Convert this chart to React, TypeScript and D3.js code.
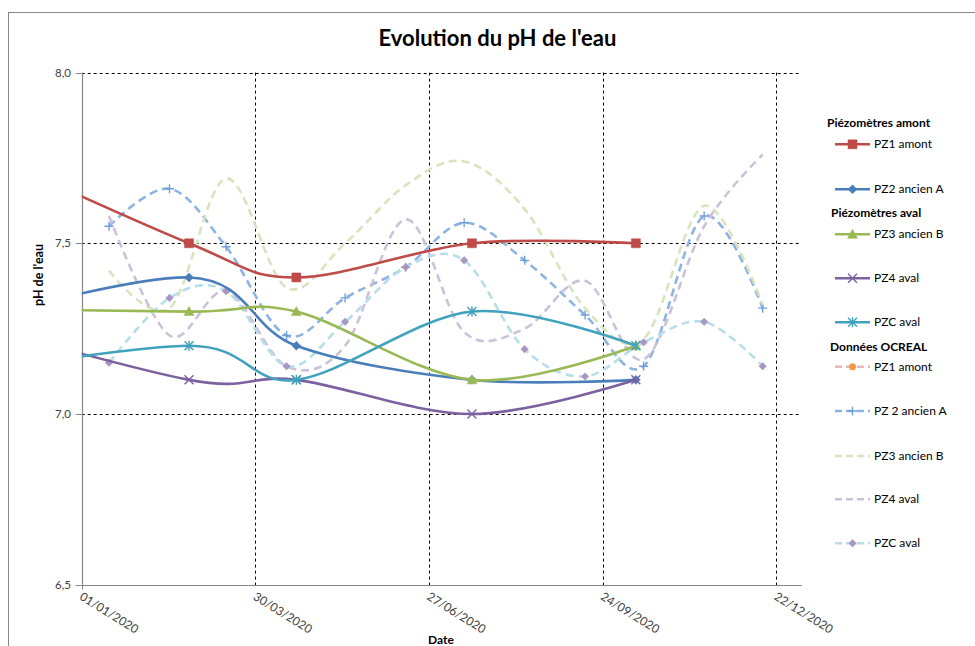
import React from "react";
import * as d3 from "d3";

const W = 975;
const H = 646;

// ---- data ----
const solidDates = ["2019-10-15", "2020-02-25", "2020-04-20", "2020-07-19", "2020-10-11"];
const pz1Amont = [7.84, 7.5, 7.4, 7.5, 7.5];
const pz2AncienA = [7.24, 7.4, 7.2, 7.1, 7.1];
const pz3AncienB = [7.31, 7.3, 7.3, 7.1, 7.2];
const pz4Aval = [7.3, 7.1, 7.1, 7.0, 7.1];
const pzcAval = [7.1, 7.2, 7.1, 7.3, 7.2];

const ocrealDates = [
  "2020-01-15", "2020-02-15", "2020-03-15", "2020-04-15", "2020-05-15", "2020-06-15",
  "2020-07-15", "2020-08-15", "2020-09-15", "2020-10-15", "2020-11-15", "2020-12-15",
];
const ocPz1Amont: (number | null)[] = [null, null, null, null, null, null, null, null, null, null, null, null];
const ocPz2AncienA = [7.55, 7.66, 7.49, 7.23, 7.34, 7.43, 7.56, 7.45, 7.29, 7.14, 7.58, 7.31];
const ocPz3AncienB = [7.42, 7.31, 7.69, 7.37, 7.5, 7.67, 7.74, 7.6, 7.31, 7.22, 7.61, 7.32];
const ocPz4Aval = [7.58, 7.23, 7.36, 7.14, 7.2, 7.57, 7.24, 7.25, 7.39, 7.16, 7.55, 7.76];
const ocPzcAval = [7.15, 7.34, 7.36, 7.14, 7.27, 7.43, 7.45, 7.19, 7.11, 7.21, 7.27, 7.14];

const yTicks = [6.5, 7.0, 7.5, 8.0];
const xTickLabels = ["01/01/2020", "30/03/2020", "27/06/2020", "24/09/2020", "22/12/2020"];

const title = "Evolution du pH de l'eau";
const yTitle = "pH de l'eau";
const xTitle = "Date";

// ---- layout ----
const plotL = 81.7;
const plotR = 801.7;
const plotT = 72.6;
const plotB = 584.7;

const parseIso = (s: string) => {
  const [y, m, d] = s.split("-").map(Number);
  return new Date(Date.UTC(y, m - 1, d));
};
const parseFr = (s: string) => {
  const [d, m, y] = s.split("/").map(Number);
  return new Date(Date.UTC(y, m - 1, d));
};

const x = d3
  .scaleUtc()
  .domain([new Date(Date.UTC(2020, 0, 1)), new Date(Date.UTC(2021, 0, 4))])
  .range([plotL, plotR]);
const y = d3.scaleLinear().domain([6.5, 8]).range([plotB, plotT]);

type Marker = "square" | "diamond" | "triangle" | "x" | "asterisk" | "plus" | "circle" | "none";

interface Series {
  name: string;
  dates: string[];
  values: (number | null)[];
  color: string;
  dashed: boolean;
  marker: Marker;
  markerColor: string;
  markerSize: number;
}

const solidSeries: Series[] = [
  { name: "PZ1 amont", dates: solidDates, values: pz1Amont, color: "#BE4B48", dashed: false, marker: "square", markerColor: "#BE4B48", markerSize: 4.5 },
  { name: "PZ2 ancien A", dates: solidDates, values: pz2AncienA, color: "#4A7EBB", dashed: false, marker: "diamond", markerColor: "#4A7EBB", markerSize: 4.5 },
  { name: "PZ3 ancien B", dates: solidDates, values: pz3AncienB, color: "#98B954", dashed: false, marker: "triangle", markerColor: "#98B954", markerSize: 5 },
  { name: "PZ4 aval", dates: solidDates, values: pz4Aval, color: "#7D60A0", dashed: false, marker: "x", markerColor: "#7D60A0", markerSize: 4.5 },
  { name: "PZC aval", dates: solidDates, values: pzcAval, color: "#40A2BD", dashed: false, marker: "asterisk", markerColor: "#40A2BD", markerSize: 4.5 },
];

const ocrealSeries: Series[] = [
  { name: "PZ1 amont", dates: ocrealDates, values: ocPz1Amont, color: "#E6B9B8", dashed: true, marker: "circle", markerColor: "#F79646", markerSize: 3.5 },
  { name: "PZ 2 ancien A", dates: ocrealDates, values: ocPz2AncienA, color: "#8DB3E2", dashed: true, marker: "plus", markerColor: "#6F9FDB", markerSize: 4.5 },
  { name: "PZ3 ancien B", dates: ocrealDates, values: ocPz3AncienB, color: "#D7E4BD", dashed: true, marker: "none", markerColor: "#D7E4BD", markerSize: 0 },
  { name: "PZ4 aval", dates: ocrealDates, values: ocPz4Aval, color: "#CCC1DA", dashed: true, marker: "none", markerColor: "#CCC1DA", markerSize: 0 },
  { name: "PZC aval", dates: ocrealDates, values: ocPzcAval, color: "#B7DEE8", dashed: true, marker: "diamond", markerColor: "#A895C3", markerSize: 3.8 },
];

const FONT = "Lato, 'Open Sans', sans-serif";

function markerPath(m: Marker, r: number): string {
  switch (m) {
    case "square":
      return `M${-r},${-r}H${r}V${r}H${-r}Z`;
    case "diamond":
      return `M0,${-r}L${r},0L0,${r}L${-r},0Z`;
    case "triangle":
      return `M0,${-r}L${r},${r * 0.8}L${-r},${r * 0.8}Z`;
    case "x":
      return `M${-r},${-r}L${r},${r}M${-r},${r}L${r},${-r}`;
    case "asterisk":
      return `M${-r},${-r}L${r},${r}M${-r},${r}L${r},${-r}M0,${-r - 0.5}L0,${r + 0.5}`;
    case "plus":
      return `M${-r},0H${r}M0,${-r}V${r}`;
    default:
      return "";
  }
}

function MarkerShape({ m, r, color, cx, cy }: { m: Marker; r: number; color: string; cx: number; cy: number }) {
  if (m === "none") return null;
  if (m === "circle") return <circle cx={cx} cy={cy} r={r} fill={color} />;
  const filled = m === "square" || m === "diamond" || m === "triangle";
  return (
    <path
      transform={`translate(${cx},${cy})`}
      d={markerPath(m, r)}
      fill={filled ? color : "none"}
      stroke={color}
      strokeWidth={filled ? 0.5 : 1.4}
    />
  );
}

const lineGen = d3
  .line<[Date, number]>()
  .x((d) => x(d[0]))
  .y((d) => y(d[1]))
  .curve(d3.curveCardinal.tension(0));

function SeriesView({ s }: { s: Series }) {
  const pts: [Date, number][] = [];
  s.dates.forEach((d, i) => {
    const v = s.values[i];
    if (v !== null && v !== undefined) pts.push([parseIso(d), v]);
  });
  if (pts.length === 0) return null;
  return (
    <g>
      <path
        d={lineGen(pts) || ""}
        fill="none"
        stroke={s.color}
        strokeWidth={2.6}
        strokeDasharray={s.dashed ? "8,5" : undefined}
        strokeLinecap="butt"
        strokeLinejoin="round"
      />
      {pts.map((p, i) => (
        <MarkerShape key={i} m={s.marker} r={s.markerSize} color={s.markerColor} cx={x(p[0])} cy={y(p[1])} />
      ))}
    </g>
  );
}

type LegendRow =
  | { kind: "head"; text: string; x: number; y: number }
  | { kind: "item"; s: Series; y: number };

const legendRows: LegendRow[] = [
  { kind: "head", text: "Piézomètres amont", x: 827, y: 123.3 },
  { kind: "item", s: solidSeries[0], y: 144.3 },
  { kind: "item", s: solidSeries[1], y: 189.3 },
  { kind: "head", text: "Piézomètres aval", x: 831, y: 213.3 },
  { kind: "item", s: solidSeries[2], y: 234.3 },
  { kind: "item", s: solidSeries[3], y: 278.3 },
  { kind: "item", s: solidSeries[4], y: 322.3 },
  { kind: "head", text: "Données OCREAL", x: 830, y: 347.3 },
  { kind: "item", s: ocrealSeries[0], y: 366.7 },
  { kind: "item", s: ocrealSeries[1], y: 411 },
  { kind: "item", s: ocrealSeries[2], y: 456 },
  { kind: "item", s: ocrealSeries[3], y: 499.3 },
  { kind: "item", s: ocrealSeries[4], y: 543.3 },
];

export default function App() {
  const xTicks = xTickLabels.map(parseFr);
  const px = (v: number) => Math.round(v) + 0.5;

  return (
    <svg
      width={W}
      height={H}
      viewBox={`0 0 ${W} ${H}`}
      style={{ position: "absolute", left: 0, top: 0, display: "block", background: "#fff" }}
      fontFamily={FONT}
    >
      <rect x={0} y={0} width={W} height={H} fill="#fff" />
      {/* chart frame */}
      <rect x={8.5} y={12.5} width={1200} height={900} fill="none" stroke="#868686" strokeWidth={1} />

      {/* title */}
      <text x={497.5} y={46} textAnchor="middle" fontSize={22} fontWeight={700} fill="#000">
        {title}
      </text>

      {/* gridlines */}
      {yTicks
        .filter((t) => t > 6.5)
        .map((t) => (
          <line key={`gy${t}`} x1={plotL} x2={plotR} y1={px(y(t))} y2={px(y(t))} stroke="#000" strokeWidth={1} strokeDasharray="3,3" />
        ))}
      {xTicks.slice(1).map((d, i) => (
        <line key={`gx${i}`} x1={px(x(d))} x2={px(x(d))} y1={plotT} y2={plotB + 4} stroke="#000" strokeWidth={1} strokeDasharray="3,3" />
      ))}

      {/* axes */}
      <line x1={px(plotL)} x2={px(plotL)} y1={plotT} y2={plotB} stroke="#868686" strokeWidth={1.2} />
      <line x1={plotL} x2={plotR} y1={px(plotB)} y2={px(plotB)} stroke="#868686" strokeWidth={1.2} />
      {yTicks.map((t) => (
        <line key={`ty${t}`} x1={plotL - 6} x2={plotL} y1={px(y(t))} y2={px(y(t))} stroke="#868686" strokeWidth={1} />
      ))}
      <line x1={px(plotL)} x2={px(plotL)} y1={plotB} y2={plotB + 5} stroke="#868686" strokeWidth={1} />

      {/* y tick labels */}
      {yTicks.map((t) => (
        <text key={`ly${t}`} x={71} y={y(t) + 4} textAnchor="end" fontSize={11.5} fill="#404040">
          {d3.format(".1f")(t).replace(".", ",")}
        </text>
      ))}

      {/* x tick labels */}
      {xTicks.map((d, i) => (
        <text
          key={`lx${i}`}
          transform={`translate(${x(d) - 3},${plotB + 14}) rotate(32)`}
          fontSize={12}
          fill="#404040"
        >
          {xTickLabels[i]}
        </text>
      ))}

      {/* axis titles */}
      <text transform={`translate(43,275) rotate(-90)`} textAnchor="middle" fontSize={12.5} fontWeight={700} fill="#000">
        {yTitle}
      </text>
      <text x={441} y={644} textAnchor="middle" fontSize={12} fontWeight={700} fill="#000">
        {xTitle}
      </text>

      {/* series */}
      <defs>
        <clipPath id="plotClip">
          <rect x={plotL} y={plotT - 10} width={plotR - plotL} height={plotB - plotT + 10} />
        </clipPath>
      </defs>
      <g clipPath="url(#plotClip)">
        {ocrealSeries.map((s, i) => (
          <SeriesView key={`o${i}`} s={s} />
        ))}
        {solidSeries.map((s, i) => (
          <SeriesView key={`s${i}`} s={s} />
        ))}
      </g>

      {/* legend */}
      {legendRows.map((r, i) =>
        r.kind === "head" ? (
          <text key={`lg${i}`} x={r.x} y={r.y + 4} fontSize={12} fontWeight={700} fill="#000">
            {r.text}
          </text>
        ) : (
          <g key={`lg${i}`}>
            <line
              x1={835}
              x2={870}
              y1={r.y}
              y2={r.y}
              stroke={r.s.color}
              strokeWidth={2.6}
              strokeDasharray={r.s.dashed ? "7,4" : undefined}
            />
            <MarkerShape m={r.s.marker} r={r.s.markerSize} color={r.s.markerColor} cx={852.5} cy={r.y} />
            <text x={874} y={r.y + 4} fontSize={12} fill="#000">
              {r.s.name}
            </text>
          </g>
        )
      )}
    </svg>
  );
}
